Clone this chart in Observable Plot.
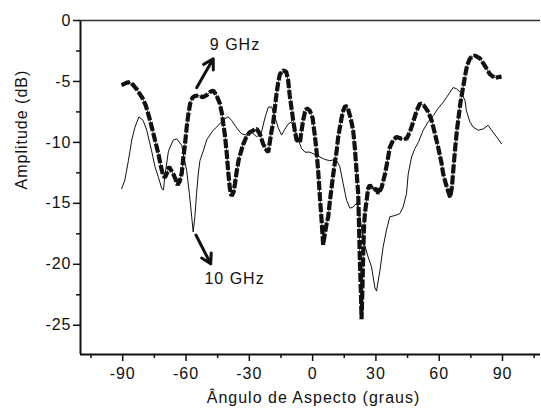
<!DOCTYPE html>
<html><head><meta charset="utf-8">
<script src="https://cdn.jsdelivr.net/npm/d3@7"></script>
<script src="https://cdn.jsdelivr.net/npm/@observablehq/plot@0.6"></script>
<style>
html,body{margin:0;padding:0;background:#fff;}
svg text{letter-spacing:1px;}
</style></head><body><div id="chart"></div>
<script>
// 9 GHz (thick dashed) : [angle (deg), amplitude (dB)]
const series9GHz = [
[-90.5,-5.3],[-88,-5.1],[-86.5,-5.05],[-85,-5.3],[-83.5,-5.6],[-82,-6.0],[-80.5,-6.4],[-79,-7.0],[-77.5,-7.9],[-76,-8.9],
[-75,-9.6],[-74,-10.3],[-73,-11.0],[-72,-11.9],[-71,-12.6],[-70,-12.9],[-69,-12.5],[-68,-12.0],[-67,-12.3],[-66,-12.6],
[-65,-13.0],[-64,-13.5],[-63,-13.2],[-62,-12.5],[-61.3,-11.3],[-60.5,-10.2],[-59.7,-8.8],[-58.9,-7.7],[-58,-6.8],[-57,-6.35],
[-56,-6.2],[-54,-6.15],[-52,-6.3],[-50,-6.1],[-48.5,-5.85],[-47,-5.75],[-45.5,-6.15],[-44,-6.8],[-43,-7.6],[-42.3,-8.5],
[-41.5,-9.5],[-40.7,-10.9],[-40,-12.4],[-39.2,-13.8],[-38.4,-14.4],[-37.5,-14.1],[-36.8,-13.4],[-36,-12.4],[-35,-11.4],[-34,-10.8],
[-33,-10.2],[-31.5,-9.6],[-30,-9.2],[-28,-9.0],[-26.5,-8.9],[-25,-9.3],[-23.5,-10.1],[-22,-10.6],[-21,-10.8],[-20.2,-9.9],
[-19.5,-9.1],[-18.7,-8.4],[-17.9,-7.2],[-17.1,-6.0],[-16.3,-5.1],[-15.5,-4.4],[-14,-4.1],[-12.5,-4.2],[-11.6,-4.9],[-10.8,-6.2],
[-10,-7.2],[-9.2,-8.2],[-8.4,-9.1],[-7.6,-9.8],[-6,-10.0],[-5.2,-9.0],[-4.5,-8.2],[-3.6,-7.5],[-2.8,-7.2],[-1.3,-7.4],
[0,-8.0],[1.1,-9.5],[1.9,-10.8],[2.7,-12.5],[3.5,-14.6],[4.3,-16.5],[5,-18.4],[5.8,-17.5],[6.6,-16.7],[7.4,-16.1],
[8.2,-14.8],[9,-13.7],[9.8,-12.6],[10.6,-11.6],[11.4,-10.7],[12.1,-9.6],[12.9,-8.8],[13.7,-8.0],[14.5,-7.4],[15.5,-7.0],
[16.5,-7.1],[17.7,-7.8],[18.5,-8.4],[19.2,-9.0],[20,-10.4],[20.8,-12.3],[21.6,-14.2],[22.1,-17.5],[22.4,-19.7],[22.9,-22.4],
[23.2,-24.5],[23.6,-22.0],[24,-19.0],[24.4,-16.8],[24.8,-15.8],[25.6,-14.75],[26.3,-13.8],[27.1,-13.5],[28.7,-13.9],[30.3,-13.8],
[31.1,-14.2],[32.7,-13.7],[34.3,-12.6],[35.5,-11.5],[36.6,-10.4],[38.2,-9.8],[39.8,-9.55],[42.2,-9.7],[44.5,-9.7],[46.1,-9.15],
[47.7,-8.3],[49.3,-7.4],[50.9,-6.8],[52.9,-7.0],[54.8,-7.5],[56.4,-8.2],[58,-9.3],[59.5,-10.4],[61.1,-11.7],[61.9,-12.6],
[63,-13.3],[64,-13.9],[65.2,-14.5],[66,-13.7],[66.8,-12.0],[67.6,-10.4],[68.4,-9.0],[69.2,-7.9],[70,-6.8],[70.8,-6.0],
[71.6,-5.2],[72.4,-4.4],[73.2,-3.7],[74.6,-3.1],[76.9,-2.87],[79.3,-3.1],[81.6,-3.7],[84,-4.4],[86.3,-4.7],[88,-4.65],[89.5,-4.6]
];
// 10 GHz (thin solid)
const series10GHz = [
[-90.5,-13.8],[-89,-13.1],[-87.3,-11.5],[-85.7,-9.8],[-84.2,-8.75],[-82.3,-7.9],[-80.3,-8.2],[-78.6,-9.0],[-76.3,-10.7],[-74.7,-12.0],
[-73,-12.9],[-71.5,-13.8],[-70.7,-13.9],[-69.9,-12.6],[-68.3,-10.7],[-66,-9.8],[-64.4,-9.7],[-62,-10.25],[-61.3,-10.9],[-59.7,-12.3],
[-58.4,-14.2],[-57.3,-16.1],[-56.6,-17.35],[-55.8,-16.1],[-55,-14.2],[-54.2,-12.6],[-53.4,-11.5],[-51.8,-10.7],[-50.2,-9.8],[-48.7,-9.4],
[-47.1,-9.0],[-45.5,-8.75],[-43.1,-8.3],[-41.5,-8.05],[-40,-7.9],[-38.4,-8.2],[-36.8,-8.6],[-35.2,-9.0],[-33.6,-9.3],[-31.3,-9.4],
[-28.9,-9.15],[-26.5,-9.55],[-24.2,-9.15],[-22.6,-8.0],[-21,-7.1],[-19.4,-7.1],[-17.9,-7.9],[-16.3,-8.8],[-14.7,-9.4],[-13.1,-8.9],
[-11.6,-8.5],[-9.9,-8.3],[-8.4,-8.9],[-6.8,-9.8],[-5.2,-10.5],[-3.6,-10.8],[-1.3,-10.8],[1.1,-11.0],[3.5,-11.2],[5.8,-11.4],
[8.2,-11.5],[10.6,-11.4],[12.1,-11.7],[12.9,-12.0],[14.5,-13.4],[16.1,-14.75],[17.7,-15.4],[19.2,-15.3],[20.8,-15.0],[22.1,-15.7],
[24,-18.0],[26.3,-19.4],[27.9,-20.2],[29.5,-21.9],[30.3,-22.2],[31.9,-20.5],[33.4,-18.6],[35,-17.2],[36.6,-16.1],[39,-16.0],
[41.3,-15.85],[42.9,-15.3],[44.5,-14.2],[45.3,-12.6],[46.9,-11.2],[48.5,-10.5],[50.1,-10.0],[52.4,-9.0],[54.8,-8.3],[57.2,-7.8],
[59.5,-7.2],[61.9,-6.7],[63.5,-6.3],[66.6,-5.5],[68.2,-5.6],[70.6,-6.0],[72.2,-6.55],[72.9,-7.4],[74.5,-8.3],[76.1,-8.75],
[78.5,-9.0],[80.8,-8.9],[83.2,-8.6],[84.8,-9.0],[87.2,-9.55],[89.5,-10.1]
];
const xTicks = [-90,-60,-30,0,30,60,90];
const xMinorTicks = [-105,-75,-45,-15,15,45,75,105];
const yTicks = [0,-5,-10,-15,-20,-25];
const yMinorTicks = [-2.5,-7.5,-12.5,-17.5,-22.5];
const xDomain = [-110,108];
const yDomain = [-27.4,0];
const xTitle = "Ângulo de Aspecto (graus)";
const yTitle = "Amplitude (dB)";
// series labels and pointer arrows (data coordinates)
const labelText = ["9 GHz","10 GHz"];
const labelAngle = [-36.8,-37.0];
const labelAmp = [-1.97,-21.2];
const arrowFromAngle = [-54.95,-55.3];
const arrowFromAmp = [-5.52,-17.6];
const arrowToAngle = [-47.1,-48.3];
const arrowToAmp = [-3.14,-19.96];

const d9 = series9GHz.map(([x,y]) => ({x,y}));
const d10 = series10GHz.map(([x,y]) => ({x,y}));
const labels = labelText.map((t,i) => ({t, x: labelAngle[i], y: labelAmp[i]}));
const arrows = arrowFromAngle.map((_,i) => ({x1: arrowFromAngle[i], y1: arrowFromAmp[i], x2: arrowToAngle[i], y2: arrowToAmp[i]}));
const font = "'Liberation Sans', Arial, sans-serif";
const ink = "#111";
const fmt = d => `${d}`;

const chart = Plot.plot({
  width: 541, height: 413,
  marginLeft: 80, marginRight: 1, marginTop: 20, marginBottom: 59,
  style: {fontFamily: font, fontSize: "16px", color: ink, background: "#fff"},
  x: {domain: xDomain},
  y: {domain: yDomain},
  marks: [
    Plot.axisX({ticks: xTicks, tickSize: 7, tickPadding: 6, strokeWidth: 1.5, label: null, fontSize: 16, tickFormat: fmt}),
    Plot.axisX({ticks: xMinorTicks, tickSize: 4, strokeWidth: 1.5, tickFormat: () => "", label: null}),
    Plot.axisY({ticks: yTicks, tickSize: 7, tickPadding: 2, strokeWidth: 1.5, label: null, fontSize: 16, tickFormat: fmt}),
    Plot.axisY({ticks: yMinorTicks, tickSize: 4, strokeWidth: 1.5, tickFormat: () => "", label: null}),
    Plot.ruleX([xDomain[0]], {stroke: ink, strokeWidth: 2}),
    Plot.ruleY([yDomain[0]], {stroke: ink, strokeWidth: 2}),
    Plot.ruleY([yDomain[1]], {stroke: "#333", strokeWidth: 1.5}),
    Plot.line(d10, {x: "x", y: "y", stroke: ink, strokeWidth: 1}),
    Plot.line(d9, {x: "x", y: "y", stroke: ink, strokeWidth: 0.8}),
    Plot.line(d9, {x: "x", y: "y", stroke: ink, strokeWidth: 4.2, strokeDasharray: "9,2", strokeLinecap: "butt", strokeLinejoin: "miter"}),
    Plot.arrow(arrows, {x1: "x1", y1: "y1", x2: "x2", y2: "y2", stroke: ink, strokeWidth: 3, headLength: 9}),
    Plot.text(labels, {x: "x", y: "y", text: "t", fontSize: 16, fill: ink}),
    Plot.text([xTitle], {frameAnchor: "bottom", dx: 3, dy: 48, fontSize: 16, fill: ink}),
    Plot.text([yTitle], {frameAnchor: "left", rotate: -90, dx: -59, dy: 2, fontSize: 16, fill: ink})
  ]
});
document.getElementById("chart").appendChild(chart);
</script></body></html>
